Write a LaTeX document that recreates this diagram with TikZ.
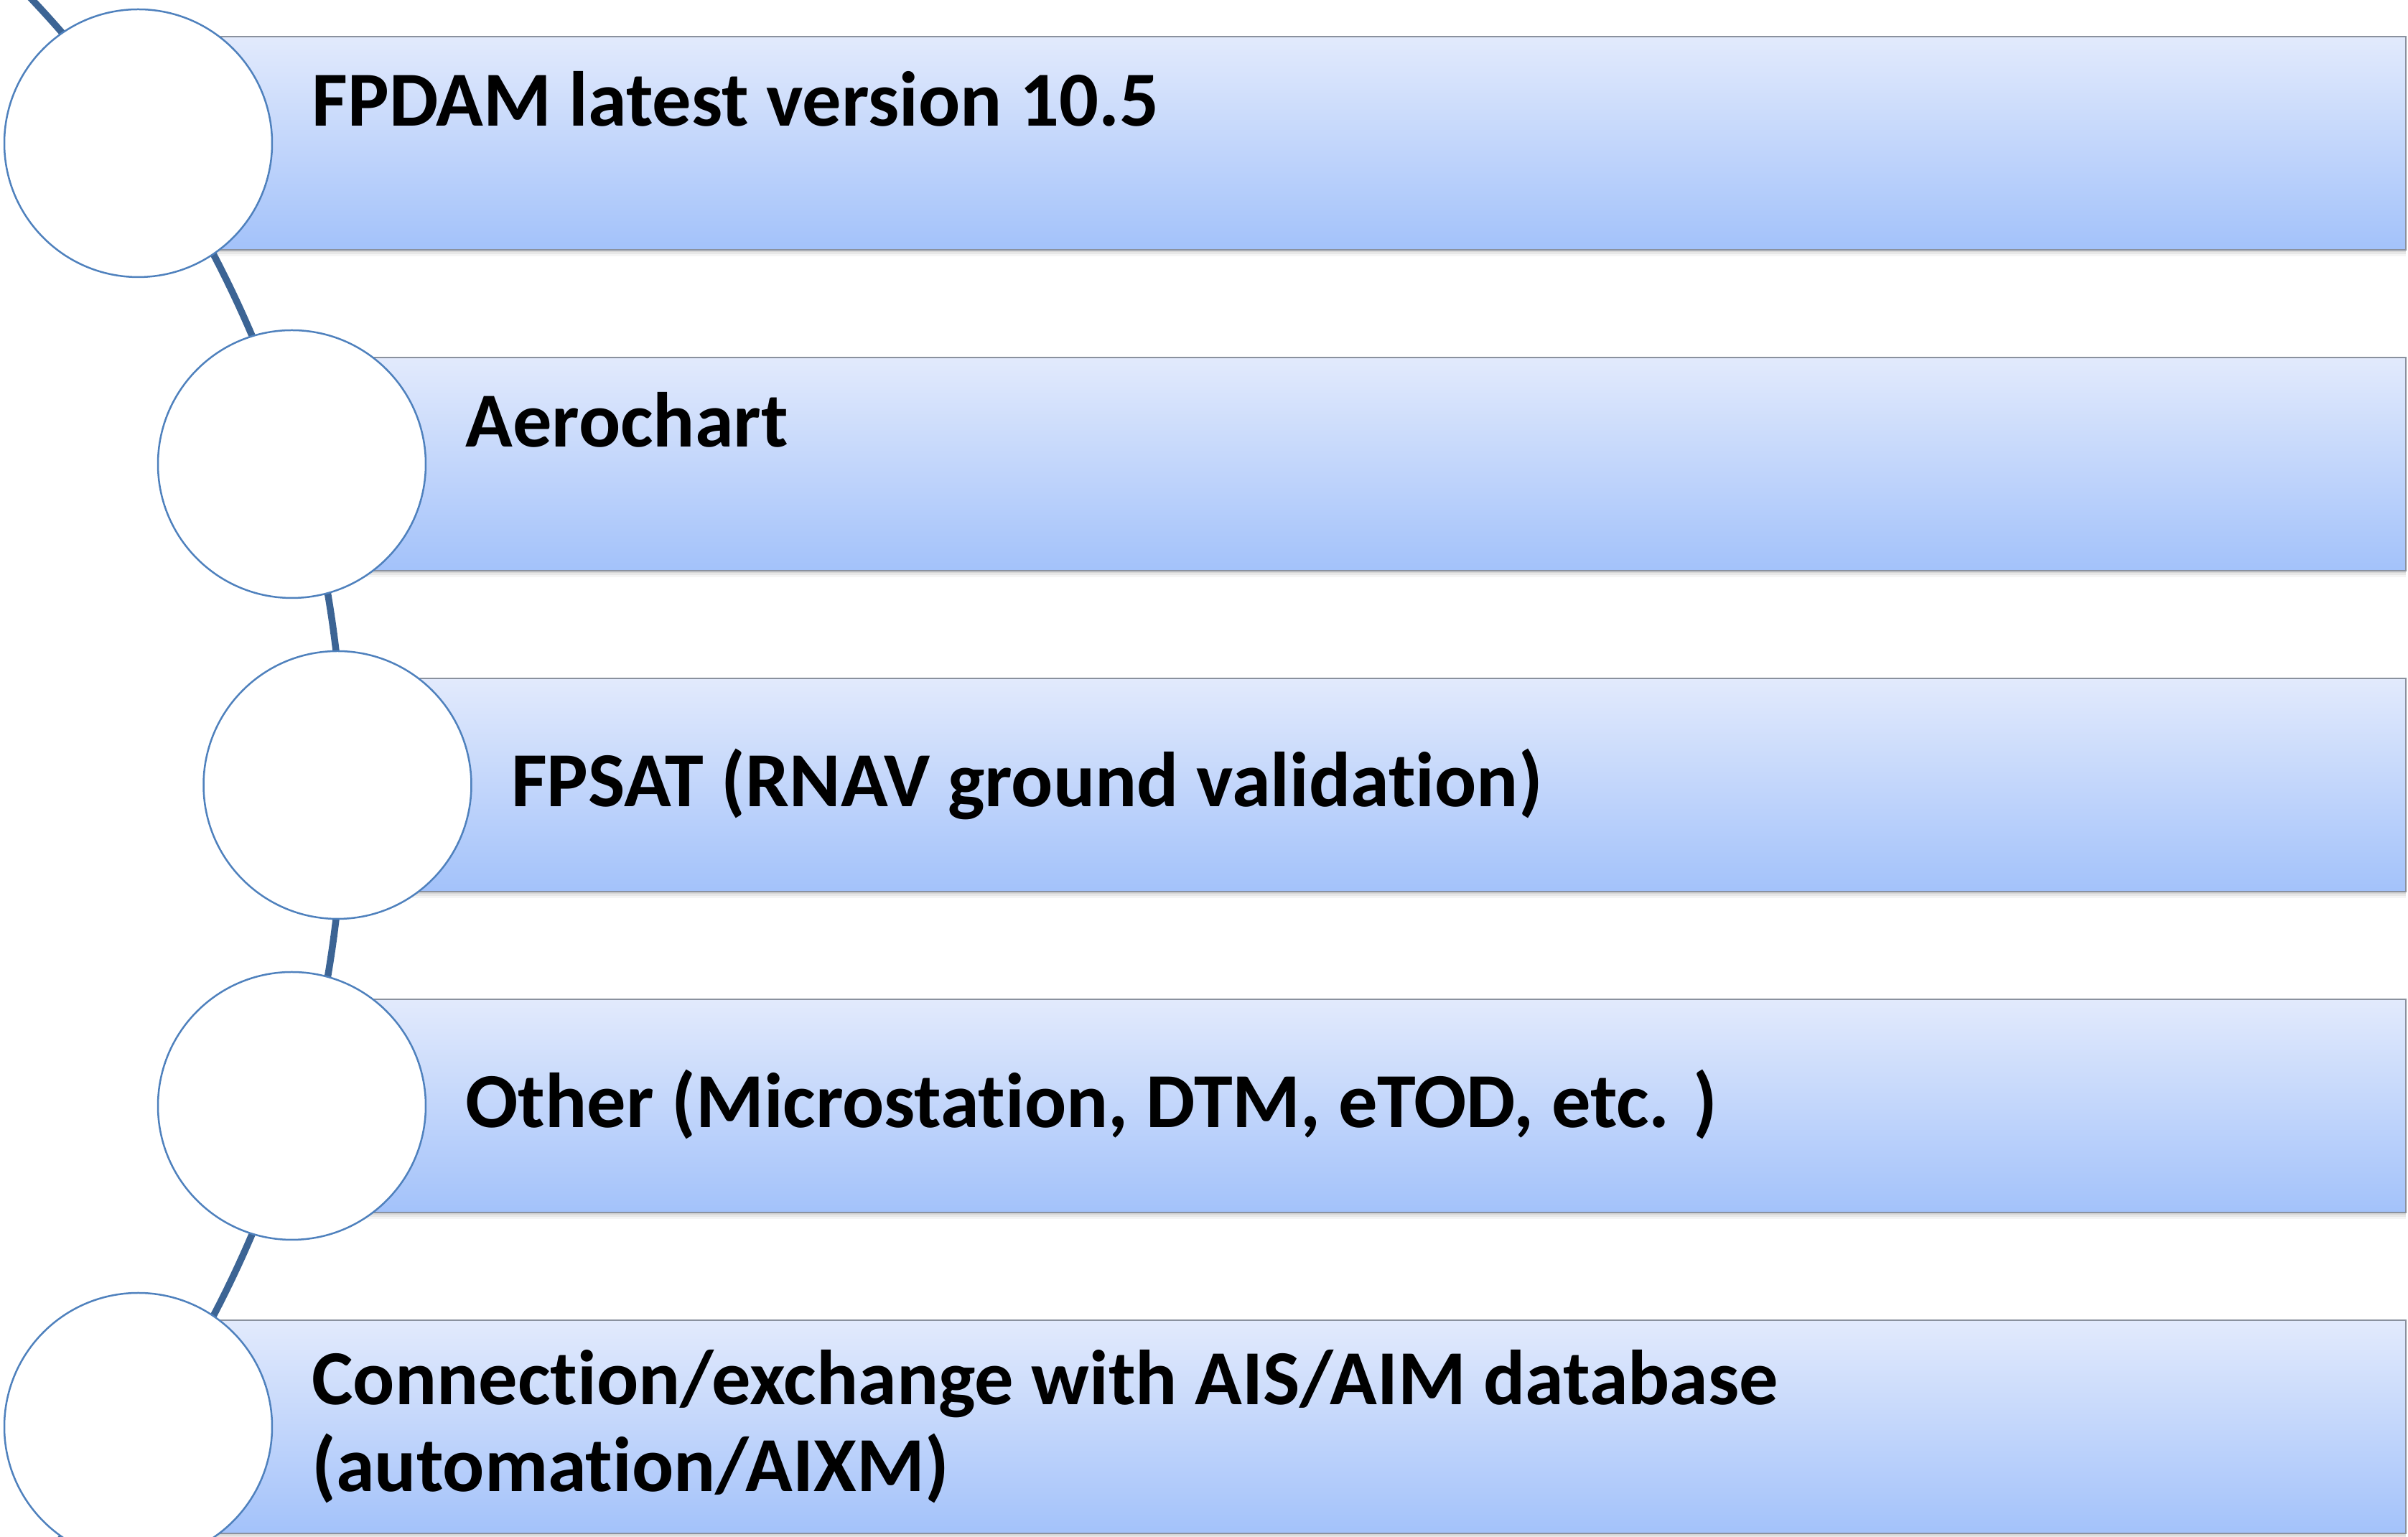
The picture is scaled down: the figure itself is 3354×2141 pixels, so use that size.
\documentclass[tikz,border=0pt]{standalone}
\usepackage{fontspec}
\setmainfont{Carlito}[Ligatures={NoCommon,NoContextual,NoRare},Contextuals=NoAlternate]
\usetikzlibrary{positioning}

\definecolor{barTop}{RGB}{226,234,252}
\definecolor{barBot}{RGB}{163,194,250}
\definecolor{barEdge}{RGB}{138,145,158}
\definecolor{ringBlue}{RGB}{79,129,189}
\definecolor{lineBlue}{RGB}{60,100,148}

\tikzset{
	bar/.style={rectangle, anchor=west, inner sep=0pt, minimum height=29.7pt,
		draw=barEdge, line width=0.25pt, top color=barTop, bottom color=barBot,
		preaction={fill=black, opacity=0.07, transform canvas={yshift=-0.3pt}},
		preaction={fill=black, opacity=0.06, transform canvas={yshift=-0.6pt}},
		preaction={fill=black, opacity=0.04, transform canvas={yshift=-0.9pt}}},
	ring/.style={circle, inner sep=0pt, minimum size=37.3pt,
		draw=ringBlue, line width=0.25pt, fill=white},
	itemtext/.style={anchor=base west, inner sep=0pt, align=left,
		font=\fontsize{10.85}{12.1}\selectfont\bfseries},
}

\begin{document}
\begin{tikzpicture}[x=0.1pt, y=-0.1pt]
	\useasboundingbox (0,0) rectangle (3354,2141);
	%% bars
	\node[bar, minimum width=315.75pt] (bar1) at (192.5,199.5) {};
	\node[bar, minimum width=294.35pt] (bar2) at (406.5,646.5) {};
	\node[bar, minimum width=288pt]    (bar3) at (470,1093.5) {};
	\node[bar, minimum width=294.35pt] (bar4) at (406.5,1540.5) {};
	\node[bar, minimum width=315.75pt] (bar5) at (192.5,1987.5) {};
	%% time line
	\coordinate (hub) at (-1116,1093.5);
	\draw[lineBlue, line width=0.95pt] (hub) ++(-50:1595) arc[start angle=-50, end angle=50, radius=1595];
	%% circles
	\node[ring] (dot1) at (bar1.west) {};
	\node[ring] (dot2) at (bar2.west) {};
	\node[ring] (dot3) at (bar3.west) {};
	\node[ring] (dot4) at (bar4.west) {};
	\node[ring] (dot5) at (bar5.west) {};
	%% texts (base of a two-line text is its last line)
	\node[itemtext] (txt1) at (432.5,176) {FPDAM latest version 10.5};
	\node[itemtext] (txt2) at (646.5,623) {Aerochart};
	\node[itemtext] (txt3) at (710,1124) {FPSAT (RNAV ground validation)};
	\node[itemtext] (txt4) at (646.5,1571) {Other (Microstation, DTM, eTOD, etc. )};
	\node[itemtext] (txt5) at (432.5,2078) {Connection/exchange with AIS/AIM database\\(automation/AIXM)};
\end{tikzpicture}
\end{document}
